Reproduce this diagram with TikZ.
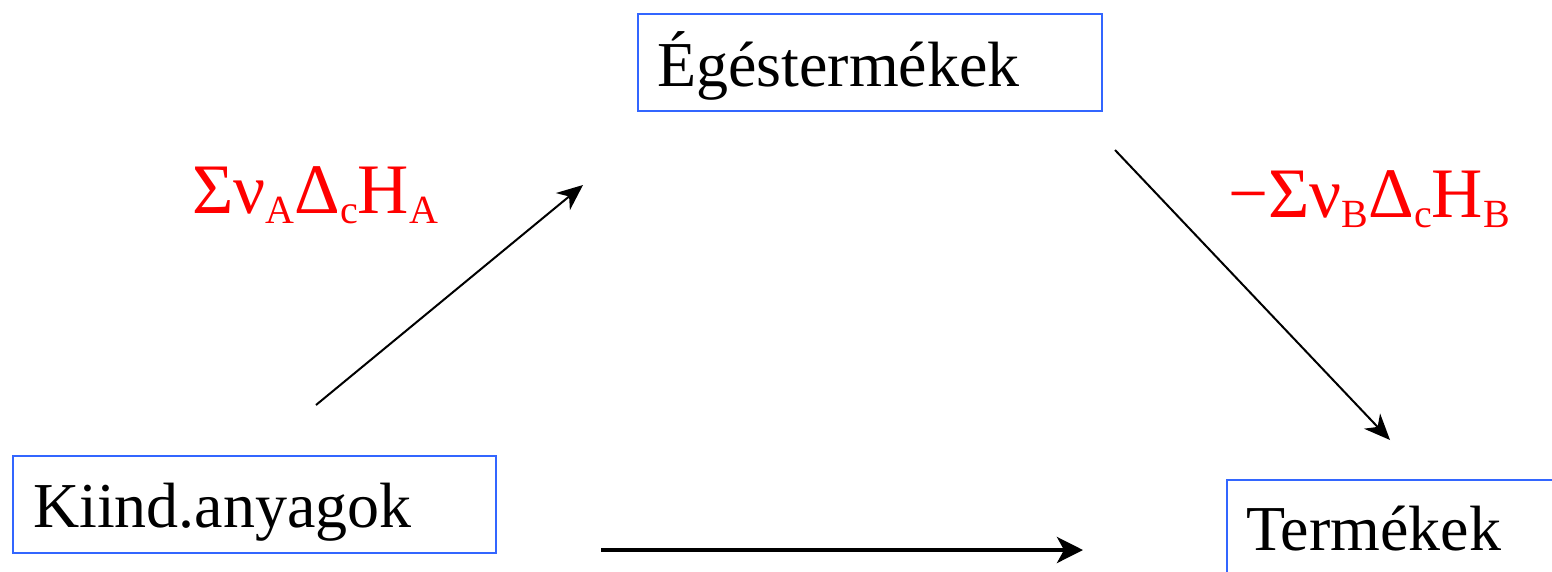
\documentclass[tikz,border=0pt]{standalone}
\usepackage{fontspec}
\setmainfont{Liberation Serif}
\usetikzlibrary{arrows.meta}
\definecolor{boxblue}{RGB}{51,102,255}
\newcommand{\sbs}[1]{\raisebox{-10pt}{\fontsize{40}{40}\selectfont #1}}
\begin{document}
\begin{tikzpicture}[x=1pt,y=-1pt,
  boxframe/.style={draw=boxblue,line width=2pt,anchor=north west,inner sep=0pt},
  lbl/.style={anchor=base west,inner sep=0pt,font=\fontsize{64}{70}\selectfont},
  redlbl/.style={anchor=base west,inner sep=0pt,text=red,font=\fontsize{71}{76}\selectfont},
  thinarrow/.style={line width=2pt,-{Stealth[length=26pt,width=22pt,inset=8pt]}},
  thickarrow/.style={line width=4pt,-{Stealth[length=26pt,width=26pt,inset=7pt]}}]
\useasboundingbox (0,0) rectangle (1552,571);
\begin{scope}
\clip (0,0) rectangle (1552,571);
\node[boxframe,minimum width=464pt,minimum height=97pt] (egebox) at (637,13) {};
\node[boxframe,minimum width=483pt,minimum height=97pt] (kiindbox) at (12,455) {};
\node[boxframe,minimum width=400pt,minimum height=120pt] (termbox) at (1226,479) {};
\end{scope}
\node[lbl] (ege) at (657,86) {Égéstermékek};
\node[lbl] (kiind) at (33,527) {Kiind.anyagok};
\node[lbl] (term) at (1246,550) {Termékek};
\node[redlbl] (lblA) at (192,213) {Σν\sbs{A}Δ\sbs{c}H\sbs{A}};
\node[redlbl] (lblB) at (1228,217) {−Σν\sbs{B}Δ\sbs{c}H\sbs{B}};
\coordinate (a1) at (316,405);
\coordinate (a2) at (583,185);
\coordinate (b1) at (1115,150);
\coordinate (b2) at (1390,440);
\coordinate (c1) at (601,550);
\coordinate (c2) at (1083,550);
\draw[thinarrow] (a1) -- (a2);
\draw[thinarrow] (b1) -- (b2);
\draw[thickarrow] (c1) -- (c2);
\end{tikzpicture}
\end{document}
